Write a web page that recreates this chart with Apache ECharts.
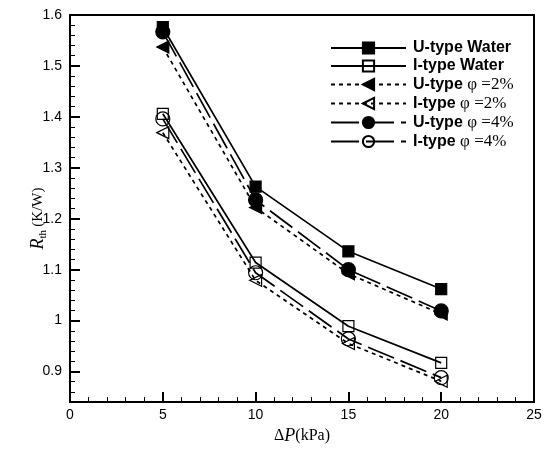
<!DOCTYPE html>
<html><head><meta charset="utf-8">
<script src="https://cdn.jsdelivr.net/npm/echarts@6/dist/echarts.min.js"></script>
<style>html,body{margin:0;padding:0;background:#fff}#c{width:547px;height:450px}</style>
</head><body><div id="c"></div>
<script>
const pressure = [5, 10, 15, 20];
const uWater = [1.576, 1.263, 1.136, 1.062];
const iWater = [1.406, 1.114, 0.989, 0.917];
const uPhi2 = [1.537, 1.222, 1.092, 1.013];
const iPhi2 = [1.369, 1.079, 0.955, 0.881];
const uPhi4 = [1.567, 1.237, 1.100, 1.019];
const iPhi4 = [1.396, 1.094, 0.964, 0.888];
const xTicks = [0, 5, 10, 15, 20, 25];
const yTicks = [0.9, 1.0, 1.1, 1.2, 1.3, 1.4, 1.5, 1.6];
const seriesNames = ['U-type Water', 'I-type Water', 'U-type φ =2%', 'I-type φ =2%', 'U-type φ =4%', 'I-type φ =4%'];

const pairs = arr => pressure.map((p, i) => [p, arr[i]]);
function mk(name, arr, symbol, size, filled, dash, rotate) {
  return {
    name, type: 'line', data: pairs(arr), symbol, symbolSize: size, symbolRotate: rotate || 0,
    lineStyle: { color: '#000', width: 1.7, type: dash },
    itemStyle: { color: filled ? '#000' : 'rgba(0,0,0,0)', borderColor: '#000', borderWidth: 1.2 },
    emphasis: { disabled: true }, animation: false, z: filled ? 3 : 2
  };
}
const chart = echarts.init(document.getElementById('c'));
chart.setOption({
  animation: false,
  grid: { left: 70, right: 13, top: 15, bottom: 37, show: true, borderColor: '#000', borderWidth: 2 },
  legend: {
    left: 325, top: 35, orient: 'vertical', itemWidth: 75, itemHeight: 14, itemGap: 2,
    data: seriesNames,
    formatter: n => {
      const parts = n.split(' ');
      if (parts[1] === 'Water') return '{b|' + n + '}';
      return '{b|' + parts[0] + ' }{p|' + parts.slice(1).join(' ') + '}';
    },
    textStyle: {
      padding: [0, 0, 0, 2], lineHeight: 14,
      rich: {
        b: { fontFamily: 'Liberation Sans', fontWeight: 'bold', fontSize: 16, color: '#000', lineHeight: 14 },
        p: { fontFamily: 'Liberation Serif', fontSize: 17, color: '#000', lineHeight: 14 }
      }
    }
  },
  xAxis: {
    type: 'value', min: 0, max: 25, interval: 5,
    axisLine: { lineStyle: { color: '#000', width: 2 } },
    axisTick: { inside: true, length: 10, lineStyle: { color: '#000', width: 2 } },
    minorTick: { show: true, splitNumber: 5, length: 5, lineStyle: { color: '#000', width: 1 } },
    splitLine: { show: false },
    axisLabel: { color: '#000', fontFamily: 'Liberation Sans', fontSize: 14, margin: 6 },
    name: '{d|Δ}{i|P}{d|(kPa)}', nameLocation: 'middle', nameGap: 19,
    nameTextStyle: { rich: {
      d: { fontFamily: 'Liberation Serif', fontSize: 16, color: '#000' },
      i: { fontFamily: 'Liberation Serif', fontStyle: 'italic', fontSize: 18, color: '#000' }
    } }
  },
  yAxis: [{
    type: 'value', min: 0.84, max: 1.6,
    axisLine: { lineStyle: { color: '#000', width: 2 } },
    axisTick: { inside: true, length: 10, customValues: yTicks, lineStyle: { color: '#000', width: 2 } },
    splitLine: { show: false },
    axisLabel: { customValues: yTicks, color: '#000', fontFamily: 'Liberation Sans', fontSize: 14, margin: 8 },
    name: '{r|R}{s|th} {u|(K/W)}', nameLocation: 'middle', nameGap: 21, nameMoveOverlap: false,
    nameTextStyle: { padding: [0, 20, 0, 0], rich: {
      r: { fontFamily: 'Liberation Serif', fontStyle: 'italic', fontSize: 18, color: '#000', lineHeight: 22 },
      s: { fontFamily: 'Liberation Serif', fontSize: 11, color: '#000', lineHeight: 12, verticalAlign: 'bottom' },
      u: { fontFamily: 'Liberation Serif', fontSize: 15, color: '#000', lineHeight: 22 }
    } }
  }, {
    type: 'value', min: 0.84, max: 1.6, interval: 0.02, position: 'left',
    axisLine: { show: false },
    axisTick: { show: true, inside: true, length: 5, lineStyle: { color: '#000', width: 1 } },
    axisLabel: { show: false }, splitLine: { show: false }
  }],
  series: [
    mk(seriesNames[0], uWater, 'rect', 11, true, 'solid'),
    mk(seriesNames[1], iWater, 'rect', 11, false, 'solid'),
    mk(seriesNames[2], uPhi2, 'triangle', 12, true, [4, 4], 90),
    mk(seriesNames[3], iPhi2, 'triangle', 12, false, [4, 4], 90),
    mk(seriesNames[4], uPhi4, 'circle', 14, true, [28, 7]),
    mk(seriesNames[5], iPhi4, 'circle', 14, false, [28, 7])
  ]
});
</script></body></html>
